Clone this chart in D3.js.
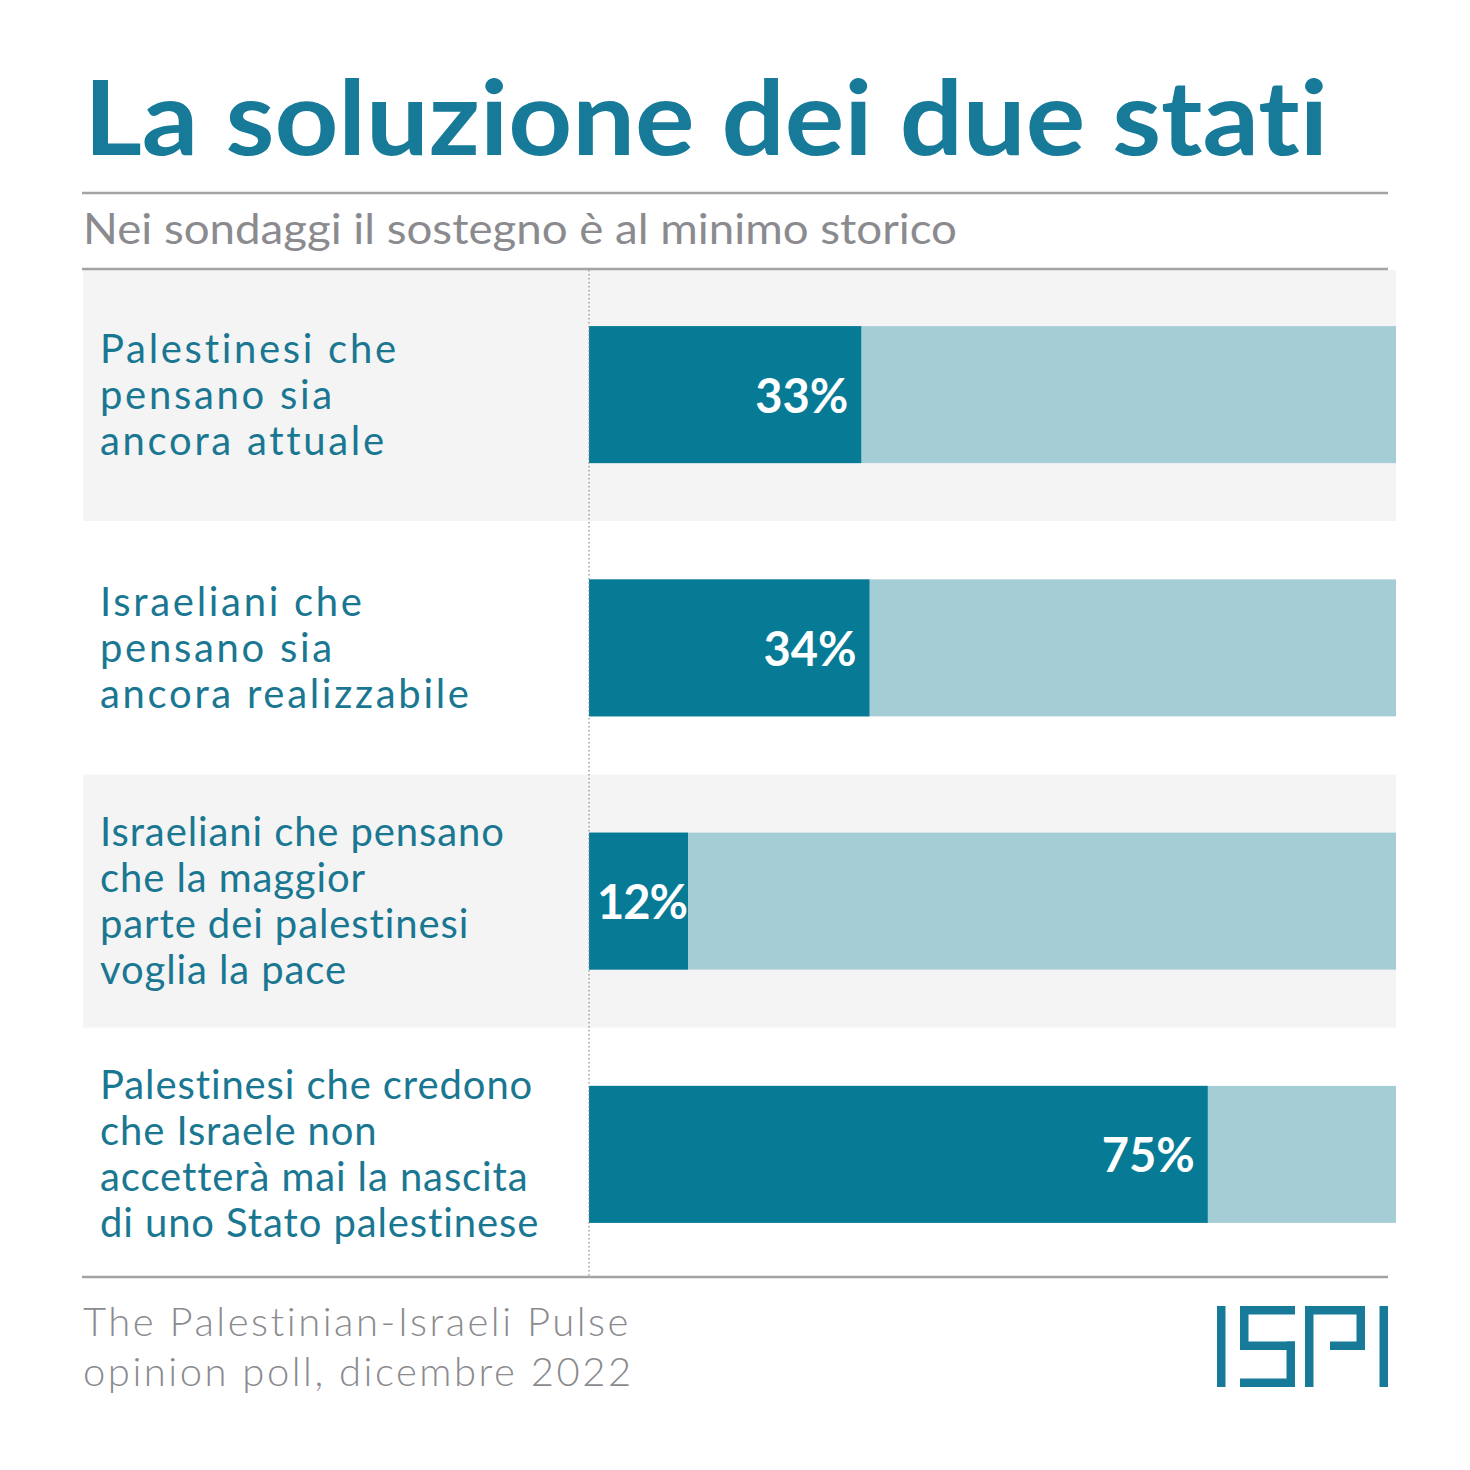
<!DOCTYPE html>
<html>
<head>
<meta charset="utf-8">
<script src="https://cdn.jsdelivr.net/npm/d3@7"></script>
<style>
  body { margin: 0; background: #fff; }
  svg { display: block; }
  text { font-variant-ligatures: none; font-feature-settings: "liga" 0, "clig" 0; }
</style>
</head>
<body>
<div id="chart"></div>
<script>
// data
const categories = [
  "Palestinesi che pensano sia ancora attuale",
  "Israeliani che pensano sia ancora realizzabile",
  "Israeliani che pensano che la maggior parte dei palestinesi voglia la pace",
  "Palestinesi che credono che Israele non accetterà mai la nascita di uno Stato palestinese"
];
const labelLines = [
  ["Palestinesi che", "pensano sia", "ancora attuale"],
  ["Israeliani che", "pensano sia", "ancora realizzabile"],
  ["Israeliani che pensano", "che la maggior", "parte dei palestinesi", "voglia la pace"],
  ["Palestinesi che credono", "che Israele non", "accetterà mai la nascita", "di uno Stato palestinese"]
];
const values = [33, 34, 12, 75];
const titleText = "La soluzione dei due stati";
const subtitleText = "Nei sondaggi il sostegno è al minimo storico";
const sourceLines = ["The Palestinian-Israeli Pulse", "opinion poll, dicembre 2022"];

// layout
const W = 1470, H = 1470;
const teal = "#167a98", dark = "#077b96", light = "#a5cdd6", rule = "#a3a3a6", grey = "#8b8b8f";
const chartLeft = 83, chartRight = 1396, axisX = 589;
const chartTop = 270, chartBottom = 1276;

const svg = d3.select("#chart").append("svg")
  .attr("width", W).attr("height", H);

// title + subtitle
svg.append("text")
  .attr("x", 84).attr("y", 155)
  .attr("font-family", "Lato").attr("font-weight", 700)
  .attr("font-size", 104).attr("fill", teal)
  .attr("textLength", 1244).attr("lengthAdjust", "spacingAndGlyphs")
  .text(titleText);

svg.append("line").attr("x1", 82).attr("x2", 1388).attr("y1", 193).attr("y2", 193)
  .attr("stroke", rule).attr("stroke-width", 2.5);

svg.append("text")
  .attr("x", 83).attr("y", 244)
  .attr("font-family", "Lato").attr("font-weight", 400)
  .attr("font-size", 42).attr("fill", grey)
  .attr("textLength", 874).attr("lengthAdjust", "spacingAndGlyphs")
  .text(subtitleText);

// scales (the light track is cut at the right edge of the panel)
const x = d3.scaleLinear().domain([0, 100]).range([axisX, 1414]);
const y = d3.scaleBand().domain(categories).range([268, 1281]).padding(0);
const barH = 137;

// row backgrounds
svg.append("g").selectAll("rect")
  .data(categories)
  .join("rect")
  .attr("x", chartLeft).attr("width", chartRight - chartLeft)
  .attr("y", d => Math.max(y(d), chartTop))
  .attr("height", d => Math.min(y(d) + y.bandwidth(), chartBottom) - Math.max(y(d), chartTop))
  .attr("fill", (d, i) => i % 2 === 0 ? "#f4f4f4" : "#fff");

// light track bars
svg.append("g").selectAll("rect")
  .data(categories)
  .join("rect")
  .attr("x", x(0)).attr("width", chartRight - x(0))
  .attr("y", d => y(d) + y.bandwidth() / 2 - barH / 2)
  .attr("height", barH)
  .attr("fill", light);

// value bars
svg.append("g").selectAll("rect")
  .data(values)
  .join("rect")
  .attr("x", x(0)).attr("width", d => x(d) - x(0))
  .attr("y", (d, i) => y(categories[i]) + y.bandwidth() / 2 - barH / 2)
  .attr("height", barH)
  .attr("fill", dark);

// value labels: inside the end of the bar, or at its start when the bar is short
svg.append("g").selectAll("text")
  .data(values)
  .join("text")
  .attr("x", d => x(d) - x(0) < 130 ? x(0) + 8 : x(d) - 13)
  .attr("y", (d, i) => y(categories[i]) + y.bandwidth() / 2 + 18)
  .attr("text-anchor", d => x(d) - x(0) < 130 ? "start" : "end")
  .attr("font-family", "Lato").attr("font-weight", 700)
  .attr("font-size", 47).attr("fill", "#fff")
  .attr("letter-spacing", d => x(d) - x(0) < 130 ? -1 : 0)
  .text(d => d + "%");

// dotted axis
svg.append("line")
  .attr("x1", axisX).attr("x2", axisX).attr("y1", chartTop).attr("y2", chartBottom)
  .attr("stroke", "#8a8a8a").attr("stroke-width", 1.2)
  .attr("stroke-dasharray", "1.5,2.5");

// category labels
const lineGap = 46;
svg.append("g").selectAll("text")
  .data(labelLines)
  .join("text")
  .attr("font-family", "Lato").attr("font-weight", 400)
  .attr("font-size", 40).attr("fill", "#1a7792")
  .attr("letter-spacing", (lines, i) => i < 2 ? 2.7 : 0.9)
  .each(function (lines, i) {
    const cy = y(categories[i]) + y.bandwidth() / 2;
    const y0 = cy - (lines.length - 1) * lineGap / 2 + 14;
    d3.select(this).selectAll("tspan")
      .data(lines)
      .join("tspan")
      .attr("x", 100)
      .attr("y", (l, j) => y0 + j * lineGap)
      .text(l => l);
  });

// rules around chart
svg.append("line").attr("x1", 82).attr("x2", 1388).attr("y1", 269).attr("y2", 269)
  .attr("stroke", rule).attr("stroke-width", 2.5);
svg.append("line").attr("x1", 82).attr("x2", 1388).attr("y1", 1277).attr("y2", 1277)
  .attr("stroke", rule).attr("stroke-width", 2.5);

// source
svg.append("g").selectAll("text")
  .data(sourceLines)
  .join("text")
  .attr("x", 83)
  .attr("y", (d, i) => 1336 + i * 50)
  .attr("font-family", "Lato").attr("font-weight", 300)
  .attr("font-size", 40).attr("fill", grey)
  .attr("letter-spacing", 2.5)
  .text(d => d);

// ISPI logo
const t = 8.5;
const logo = [
  // I
  [1217, 1306, t, 81],
  // S
  [1240, 1306, 55, t], [1240, 1306, t, 44], [1240, 1341.5, 55, t],
  [1286.5, 1341.5, t, 45.5], [1240, 1378.5, 55, t],
  // P
  [1305, 1306, t, 81], [1305, 1306, 60, t], [1356.5, 1306, t, 44], [1330, 1341.5, 35, t],
  // I
  [1379.5, 1306, t, 81]
];
svg.append("g").selectAll("rect")
  .data(logo)
  .join("rect")
  .attr("x", d => d[0]).attr("y", d => d[1])
  .attr("width", d => d[2]).attr("height", d => d[3])
  .attr("fill", teal);
</script>
</body>
</html>
